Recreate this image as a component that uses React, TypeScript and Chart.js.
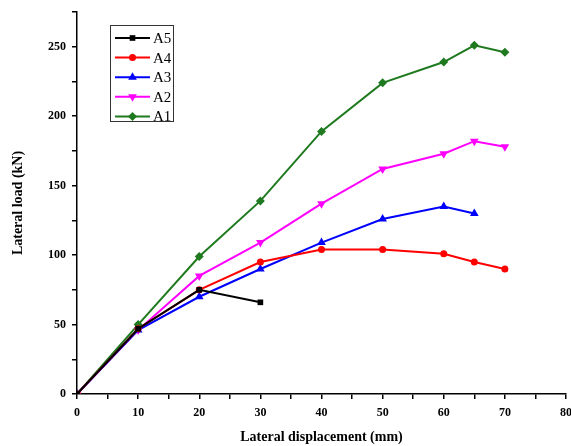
import React, { useEffect, useRef } from "react";
import { Chart, registerables } from "chart.js";
import { drawPoint } from "chart.js/helpers";

Chart.register(...registerables);

const xValues = [0, 10, 20, 30, 40, 50, 60, 65, 70];
const a1 = [0, 50, 99, 139, 189, 224, 239, 251, 246];
const a2 = [0, 46, 85, 109, 137, 162, 173, 182, 178];
const a3 = [0, 46, 70, 90, 109, 126, 135, 130];
const a4 = [0, 47, 75, 95, 104, 104, 101, 95, 90];
const a5 = [0, 47, 75, 66];

const seriesNames = ["A5", "A4", "A3", "A2", "A1"];
const seriesValues = [a5, a4, a3, a2, a1];
const seriesColors = ["#000000", "#ff0000", "#0000ff", "#ff00ff", "#1f7a1f"];
const seriesPointStyles = ["rect", "circle", "triangle", "triangle", "rectRot"];
const seriesRotations = [0, 0, 0, 180, 0];
const seriesRadius = [4, 3.5, 5, 5, 4.5];

const FONT = "'Liberation Serif', 'Times New Roman', serif";

const legendPlugin = {
  id: "boxLegend",
  afterDraw(chart: any) {
    const ctx = chart.ctx;
    ctx.save();
    ctx.strokeStyle = "#333";
    ctx.lineWidth = 1;
    ctx.strokeRect(110.5, 25.5, 63, 96);
    chart.data.datasets.forEach((ds: any, i: number) => {
      const y = 38 + i * 19.6;
      ctx.strokeStyle = ds.borderColor;
      ctx.fillStyle = ds.borderColor;
      ctx.lineWidth = 2;
      ctx.beginPath();
      ctx.moveTo(115, y);
      ctx.lineTo(150, y);
      ctx.stroke();
      drawPoint(
        ctx,
        { pointStyle: ds.pointStyle, rotation: ds.pointRotation || 0, radius: ds.pointRadius, borderWidth: 0 },
        132.5,
        y
      );
      ctx.fillStyle = "#000";
      ctx.font = `15px ${FONT}`;
      ctx.textBaseline = "middle";
      ctx.textAlign = "left";
      ctx.fillText(ds.label, 153, y + 1);
    });
    ctx.restore();
  },
};

export default function App() {
  const ref = useRef<HTMLCanvasElement | null>(null);
  useEffect(() => {
    if (!ref.current) return;
    const datasets = seriesNames.map((name, i) => ({
      label: name,
      data: seriesValues[i].map((v, j) => ({ x: xValues[j], y: v })),
      borderColor: seriesColors[i],
      backgroundColor: seriesColors[i],
      borderWidth: 2,
      pointStyle: seriesPointStyles[i],
      pointRotation: seriesRotations[i],
      pointRadius: seriesRadius[i],
      pointBorderWidth: 0,
      tension: 0,
    }));
    const chart = new Chart(ref.current, {
      type: "line",
      data: { datasets },
      plugins: [legendPlugin],
      options: {
        animation: false,
        responsive: false,
        layout: { padding: { top: 12, right: 2, left: 0, bottom: 0 } },
        plugins: { legend: { display: false }, tooltip: { enabled: false } },
        scales: {
          x: {
            type: "linear",
            min: 0,
            max: 80,
            afterFit: (s: any) => {
              s.height = 52;
              s.paddingLeft = 0;
              s.paddingRight = 0;
            },
            ticks: {
              stepSize: 5,
              autoSkip: false,
              maxRotation: 0,
              padding: 7,
              color: "#000",
              font: { family: FONT, size: 12, weight: "bold" },
              callback: (v: any) => (Number(v) % 10 === 0 ? String(v) : ""),
            },
            grid: { drawOnChartArea: false, drawTicks: true, tickLength: 5, color: "#000", lineWidth: 1.5 },
            border: { display: true, color: "#000", width: 1.5 },
            title: {
              display: true,
              text: "Lateral displacement (mm)",
              color: "#000",
              font: { family: FONT, size: 14, weight: "bold" },
              padding: { top: 0, bottom: 0 },
            },
          },
          y: {
            type: "linear",
            min: 0,
            max: 275,
            afterFit: (s: any) => {
              s.width = 77;
              s.paddingTop = 0;
              s.paddingBottom = 0;
            },
            ticks: {
              stepSize: 25,
              autoSkip: false,
              padding: 6,
              color: "#000",
              font: { family: FONT, size: 12, weight: "bold" },
              callback: (v: any) => (Number(v) % 50 === 0 ? String(v) : ""),
            },
            grid: { drawOnChartArea: false, drawTicks: true, tickLength: 5, color: "#000", lineWidth: 1.5 },
            border: { display: true, color: "#000", width: 1.5 },
            title: {
              display: true,
              text: "Lateral load (kN)",
              color: "#000",
              font: { family: FONT, size: 14, weight: "bold" },
              padding: { top: 10, bottom: 0 },
            },
          },
        },
      },
    } as any);
    return () => chart.destroy();
  }, []);
  return (
    <div style={{ position: "fixed", left: 0, top: 0, width: 571, height: 446, background: "#fff" }}>
      <canvas ref={ref} width={571} height={446} style={{ width: 571, height: 446 }} />
    </div>
  );
}
